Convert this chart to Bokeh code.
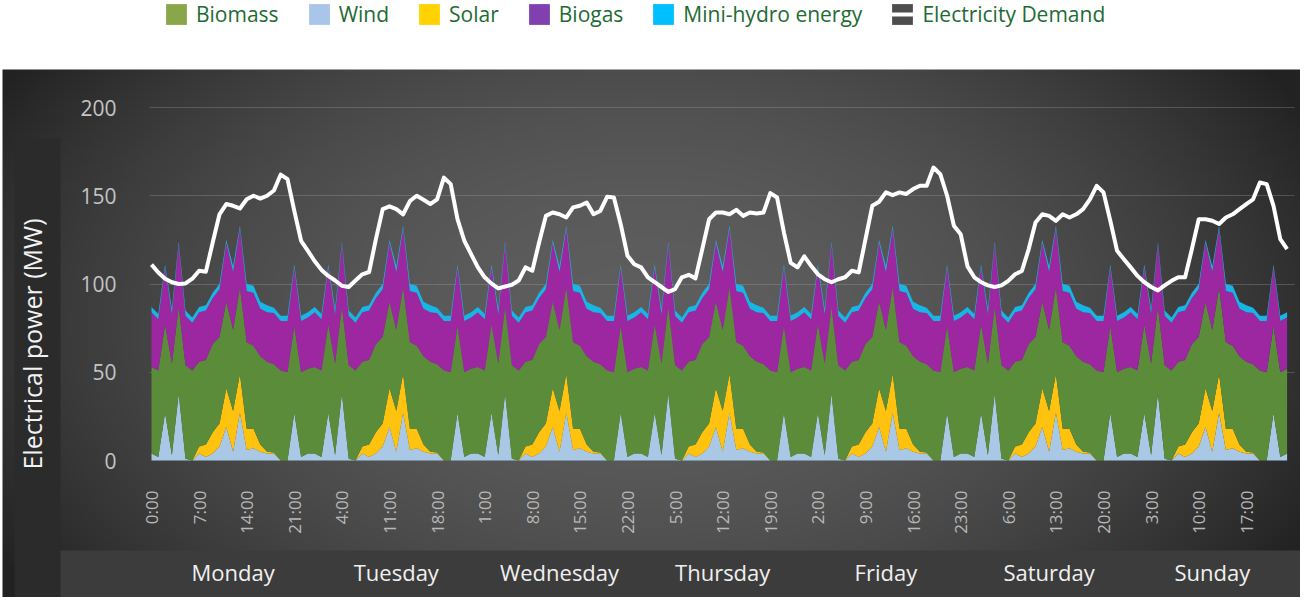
import numpy as np
from bokeh.plotting import figure
from bokeh.models import (ColumnDataSource, LinearAxis, FixedTicker, Legend,
                          LegendItem, Range1d, Grid)
from bokeh.embed import file_html
from bokeh.resources import INLINE

# ---------------- data ----------------
DAY_NAMES = ["Monday", "Tuesday", "Wednesday", "Thursday", "Friday", "Saturday", "Sunday"]
HOUR_TICK_LABELS = ["0:00", "7:00", "14:00", "21:00", "4:00", "11:00", "18:00", "1:00",
                    "8:00", "15:00", "22:00", "5:00", "12:00", "19:00", "2:00", "9:00",
                    "16:00", "23:00", "6:00", "13:00", "20:00", "3:00", "10:00", "17:00"]
Y_TICKS = [0, 50, 100, 150, 200]

# generation profile of one day (MW, hours 0..23); the same profile repeats every day
WIND_DAY = [4, 2, 27, 3, 38, 1, 0, 4, 2, 4, 8, 19, 5, 27, 6, 7, 5, 4, 4, 0, 0, 27, 2, 4]
SOLAR_DAY = [0, 0, 0, 0, 0, 0, 0, 4, 7, 12, 13, 22, 23, 22, 12, 11, 4, 1, 0.5, 0, 0, 0, 0, 0]
BIOMASS_DAY = [49, 49, 50, 52, 49, 53, 51, 48, 48, 50, 49, 49, 46, 49, 49, 47, 50, 51, 50, 51, 50, 49, 48, 48]
BIOGAS_DAY = [31, 29, 32.5, 28, 35.5, 28, 27, 28, 28, 26, 27, 33.5, 33, 33.5, 29, 30, 27, 28, 29, 28, 29, 33.5, 29, 29]
HYDRO_DAY = [3, 3, 1.5, 3, 1.5, 3, 3, 3, 3, 3, 3, 1.5, 3, 1.5, 4, 4, 4, 4, 3, 3, 3, 1.5, 3, 3]

# electricity demand per hour (MW)
DEMAND_MON = [111, 106.5, 103, 101, 100, 100.3, 103, 107.5, 107, 123.5, 139.5, 145.3,
              144.3, 142.8, 148, 150, 148.4, 150, 153, 162, 159.4, 141.4, 124.5, 118.8]
DEMAND_TUE = [112.9, 108, 104.6, 102, 99, 98.3, 102, 105.5, 106.8, 125.4, 142.4, 144,
              142.4, 139.5, 147, 150, 147.7, 145.3, 148, 160.3, 156.6, 136.7, 124.5, 116.9]
DEMAND_WED = [109.4, 103.8, 100.2, 97.5, 98.6, 99.6, 102, 109.4, 107.5, 123.5, 138.6, 140.5,
              139.5, 137.7, 143.4, 144.3, 146.2, 139.5, 141.4, 149.4, 149, 133.9, 116, 111.2]
DEMAND_THU = [109.4, 103.8, 101, 98.3, 95.5, 97.1, 103.8, 105.2, 103.2, 119.8, 136.7, 140.5,
              140.5, 139.5, 142, 138.6, 140.5, 140, 140.5, 151.5, 149, 129.2, 112, 109.4]
DEMAND_FRI = [115.7, 110.3, 105.5, 102.7, 101, 102.7, 103.8, 107.5, 106.6, 125.4, 144.3, 146.6,
              151.9, 150.3, 151.9, 151, 153.8, 155.7, 155.7, 166, 162.2, 150, 133, 128.2]
DEMAND_SAT = [110, 103.8, 101, 99.2, 98.3, 99.2, 101.8, 105.5, 107.4, 119.8, 134.8, 139.5,
              138.6, 135.8, 139.5, 137.7, 139.5, 142.4, 148, 155.6, 151.9, 135.8, 118.8, 114]
DEMAND_SUN = [109.4, 104.6, 101, 98.3, 96.4, 99.2, 101.8, 103.8, 103.8, 119.8, 136.7, 136.7,
              135.8, 134, 137.7, 139.5, 142.4, 145.3, 148, 157.5, 156.6, 144.3, 125.4, 119.8]

HOURS = list(range(168))
demand = DEMAND_MON + DEMAND_TUE + DEMAND_WED + DEMAND_THU + DEMAND_FRI + DEMAND_SAT + DEMAND_SUN

src = ColumnDataSource(dict(
    hour=HOURS,
    wind=WIND_DAY * 7,
    solar=SOLAR_DAY * 7,
    biomass=BIOMASS_DAY * 7,
    biogas=BIOGAS_DAY * 7,
    hydro=HYDRO_DAY * 7,
    demand=demand,
))

# ---------------- layout helpers ----------------
W, H = 1300, 597
X_PX0, PX_H = 151.0, 6.8        # canvas px of hour 0, px per hour
Y_PX0, PX_MW = 460.0, 1.765     # canvas px of 0 MW, px per MW


def hx(px):
    return (px - X_PX0) / PX_H


def vy(py):
    return (Y_PX0 - py) / PX_MW


p = figure(width=W, height=H, output_backend="svg", toolbar_location=None,
           x_range=Range1d(hx(0), hx(W)), y_range=Range1d(vy(H), vy(0)),
           x_axis_type=None, y_axis_type=None,
           min_border=0, min_border_left=0, min_border_right=0,
           min_border_top=0, min_border_bottom=0,
           outline_line_color=None, background_fill_color="white",
           border_fill_color="white")

# dark panel with a radial gradient
nx, ny = 325, 132
cxs = 2 + (np.arange(nx) + 0.5) * (1298 / nx)
cys = H - (np.arange(ny) + 0.5) * (528 / ny)
CX, CY = np.meshgrid(cxs, cys)
r = np.sqrt(((CX - 642) / 700) ** 2 + ((CY - 322) / 430) ** 2)
g = np.clip(94 - 52 * np.minimum(r, 1.15) ** 2, 34, 255).astype(np.uint8)
img = np.empty((ny, nx), dtype=np.uint32)
view = img.view(dtype=np.uint8).reshape((ny, nx, 4))
view[..., 0] = g
view[..., 1] = g
view[..., 2] = g
view[..., 3] = 255
p.image_rgba(image=[img], x=hx(2), y=vy(H), dw=hx(W) - hx(2), dh=vy(69) - vy(H), level="image")

# y-title box and bottom strip
p.quad(left=[hx(14)], right=[hx(60)], bottom=[vy(H)], top=[vy(138)],
       fill_color="#2b2b2b", line_color=None, level="image")
p.quad(left=[hx(60)], right=[hx(W)], bottom=[vy(H)], top=[vy(550)],
       fill_color="#3c3c3c", line_color=None, level="image")

# grid
grid = Grid(dimension=1, ticker=FixedTicker(ticks=Y_TICKS[1:]),
            grid_line_color="#a8a8a8", grid_line_alpha=0.3, grid_line_width=1,
            cross_bounds=(hx(149), hx(1294)))
p.add_layout(grid)

# stacked areas
area_colors = ["#a9c8e6", "#ffc20e", "#5b8c3a", "#9c27a0", "#19b5e6"]
areas = p.varea_stack(["wind", "solar", "biomass", "biogas", "hydro"], x="hour",
                      color=area_colors, source=src)

# demand line
p.line("hour", "demand", source=src, line_color="white", line_width=4, line_join="round")

# axes
FONT = "Open Sans"
yaxis = LinearAxis(fixed_location=hx(126), ticker=FixedTicker(ticks=Y_TICKS),
                   bounds=(-68, 200), axis_label="Electrical power (MW)",
                   axis_line_color=None, major_tick_line_color=None, minor_tick_line_color=None,
                   major_label_text_color="#c4c4c4", major_label_text_font=FONT,
                   major_label_text_font_size="21px", major_label_standoff=4,
                   axis_label_text_color="#f2f2f2", axis_label_text_font=FONT,
                   axis_label_text_font_size="25px", axis_label_text_font_style="normal",
                   axis_label_standoff=28)
p.add_layout(yaxis, "left")

hour_ticks = list(range(0, 168, 7))
xaxis = LinearAxis(fixed_location=0, ticker=FixedTicker(ticks=hour_ticks),
                   major_label_overrides={t: s for t, s in zip(hour_ticks, HOUR_TICK_LABELS)},
                   major_label_orientation=np.pi / 2, major_label_standoff=24,
                   axis_line_color=None, major_tick_line_color=None, minor_tick_line_color=None,
                   major_label_text_color="#b8b8b8", major_label_text_font=FONT,
                   major_label_text_font_size="17px")
p.add_layout(xaxis, "below")

day_ticks = [12 + 24 * i for i in range(7)]
dayaxis = LinearAxis(fixed_location=vy(550), ticker=FixedTicker(ticks=day_ticks),
                     major_label_overrides={t: s for t, s in zip(day_ticks, DAY_NAMES)},
                     major_label_standoff=0,
                     axis_line_color=None, major_tick_line_color=None, minor_tick_line_color=None,
                     major_label_text_color="#f0f0f0", major_label_text_font=FONT,
                     major_label_text_font_size="22px")
p.add_layout(dayaxis, "below")

# legend (swatches in the legend's own colours; the dummy glyphs hold no drawable data)
leg_colors = {"Biomass": "#8aa64a", "Wind": "#a9c5ea", "Solar": "#ffd200",
              "Biogas": "#8040b0", "Mini-hydro energy": "#00bfff"}
items = []
for name, c in leg_colors.items():
    rr = p.quad(left=[np.nan], right=[np.nan], top=[np.nan], bottom=[np.nan],
                fill_color=c, line_color=None)
    items.append(LegendItem(label=name, renderers=[rr]))
box = p.quad(left=[np.nan], right=[np.nan], top=[np.nan], bottom=[np.nan],
             fill_color="#4d4d4d", line_color=None)
ln = p.line(x=[np.nan], y=[np.nan], line_color="white", line_width=4)
items.append(LegendItem(label="Electricity Demand", renderers=[box, ln]))

legend = Legend(items=items, orientation="horizontal", location=(163, 569),
                margin=0, padding=2, spacing=27, label_standoff=7,
                glyph_width=26, glyph_height=26, label_height=26,
                label_text_font=FONT, label_text_font_size="21px",
                label_text_color="#1e6b33", background_fill_alpha=0,
                border_line_color=None)
p.add_layout(legend)

open("out.html", "w").write(file_html(p, INLINE))
